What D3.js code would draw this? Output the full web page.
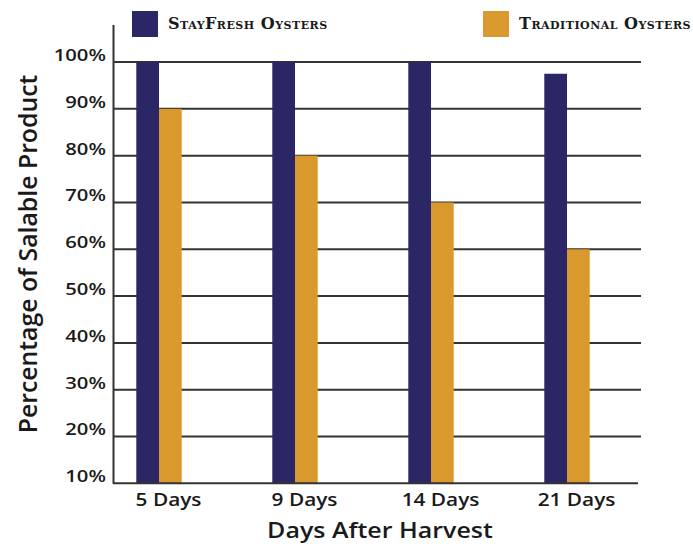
<!DOCTYPE html>
<html>
<head>
<meta charset="utf-8">
<script src="https://cdn.jsdelivr.net/npm/d3@7/dist/d3.min.js"></script>
<style>
  html, body { margin: 0; padding: 0; background: #fff; }
  svg { display: block; }
</style>
</head>
<body>
<svg id="chart" width="693" height="544"></svg>
<script>
// Salable product after harvest, by storage method
const days = ["5 Days", "9 Days", "14 Days", "21 Days"];
const seriesNames = ["StayFresh Oysters", "Traditional Oysters"];
const stayFresh = [100, 100, 100, 97.5];
const traditional = [90, 80, 70, 60];
const yTicks = [10, 20, 30, 40, 50, 60, 70, 80, 90, 100];
const colors = ["#2b2766", "#da992d"];

const svg = d3.select("#chart");
const plotLeft = 113, plotRight = 641;
const wide = "scale(1.19,1)"; // the sans labels are set slightly extended

// y runs from the 10% baseline up past 100% so the axis line overshoots the top gridline
const y = d3.scaleLinear().domain([10, 108]).range([483.3, 24.6]);

const x0 = d3.scaleBand().domain(days).range([91, 635])
  .paddingInner(0.666).paddingOuter(0.333);
const x1 = d3.scaleBand().domain(seriesNames).range([0, x0.bandwidth()]).padding(0);

const rows = days.map((d, i) => ({ day: d, values: [stayFresh[i], traditional[i]] }));

// horizontal gridlines
svg.append("g").attr("class", "grid")
  .selectAll("line").data(yTicks.filter(t => t > 10)).join("line")
  .attr("x1", plotLeft).attr("x2", plotRight)
  .attr("y1", d => y(d)).attr("y2", d => y(d))
  .attr("stroke", "#333").attr("stroke-width", 2);

// bars
svg.append("g").attr("class", "bars")
  .selectAll("g").data(rows).join("g")
  .attr("transform", d => `translate(${x0(d.day)},0)`)
  .selectAll("rect").data(d => d.values.map((v, k) => ({ key: seriesNames[k], v, k }))).join("rect")
  .attr("x", d => x1(d.key))
  .attr("width", x1.bandwidth())
  .attr("y", d => y(d.v))
  .attr("height", d => y(10) - y(d.v))
  .attr("fill", d => colors[d.k]);

// y axis
const yAxis = svg.append("g").attr("transform", `translate(${plotLeft},0)`)
  .call(d3.axisLeft(y).tickValues(yTicks).tickFormat(d => d + "%").tickSize(0).tickPadding(6));
yAxis.select(".domain").attr("stroke", "#333").attr("stroke-width", 2);
yAxis.selectAll("text")
  .attr("font-family", "'Open Sans', sans-serif")
  .attr("font-size", 17).attr("font-weight", 600)
  .attr("fill", "#1a1a1a").attr("dy", "0.32em")
  .attr("transform", `translate(0,-7) ${wide}`);

// x axis baseline
svg.append("line")
  .attr("x1", plotLeft).attr("x2", 638)
  .attr("y1", y(10)).attr("y2", y(10))
  .attr("stroke", "#333").attr("stroke-width", 2);

const xAxis = svg.append("g").attr("transform", `translate(0,${y(10)})`)
  .call(d3.axisBottom(x0).tickSize(0).tickPadding(0));
xAxis.select(".domain").remove();
xAxis.selectAll("text")
  .attr("font-family", "'Open Sans', sans-serif")
  .attr("font-size", 17.5).attr("font-weight", 600)
  .attr("fill", "#1a1a1a")
  .attr("y", 23).attr("dy", 0).attr("dx", 8)
  .attr("transform", wide);

// axis titles
svg.append("text")
  .attr("transform", `translate(37,254) rotate(-90)`)
  .attr("text-anchor", "middle")
  .attr("font-family", "'Open Sans', sans-serif")
  .attr("font-size", 24.8).attr("font-weight", 600)
  .attr("fill", "#1a1a1a")
  .text("Percentage of Salable Product");

svg.append("text")
  .attr("transform", `translate(380,538) ${wide}`)
  .attr("text-anchor", "middle")
  .attr("font-family", "'Open Sans', sans-serif")
  .attr("font-size", 21).attr("font-weight", 600)
  .attr("fill", "#1a1a1a")
  .text("Days After Harvest");

// legend
const legendX = [132, 483];
const legend = svg.append("g").attr("class", "legend")
  .selectAll("g").data(seriesNames).join("g")
  .attr("transform", (d, i) => `translate(${legendX[i]},11)`);
legend.append("rect").attr("width", 26).attr("height", 26)
  .attr("fill", (d, i) => colors[i]);
legend.append("text")
  .attr("x", 36).attr("y", 18)
  .attr("font-family", "'DejaVu Serif', serif")
  .attr("font-size", 16).attr("font-weight", 700)
  .attr("letter-spacing", 0.5)
  .style("font-variant", "small-caps")
  .attr("fill", "#1a1a1a")
  .text(d => d);
</script>
</body>
</html>
